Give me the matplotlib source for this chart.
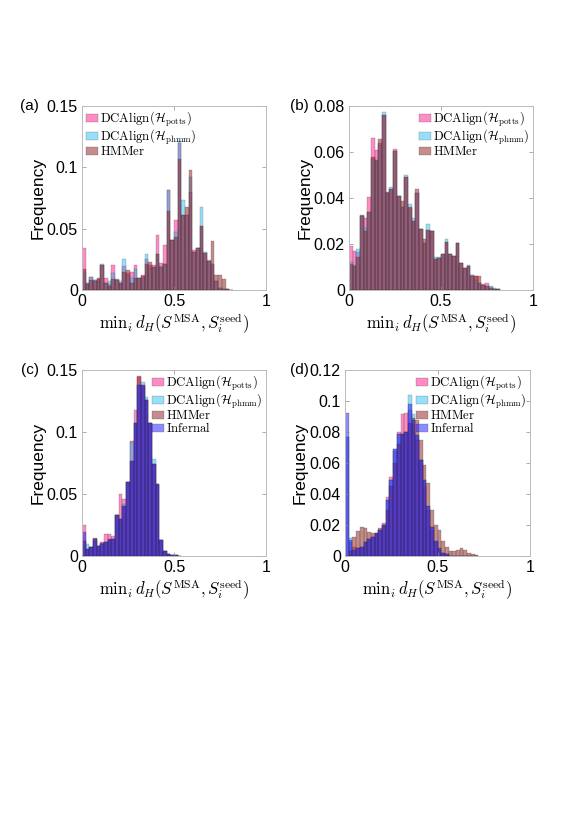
import numpy as np
import matplotlib
matplotlib.use("Agg")
import matplotlib.pyplot as plt

plt.rcParams['font.family'] = ['Liberation Sans', 'DejaVu Sans']
plt.rcParams['mathtext.fontset'] = 'cm'

bin_width = 0.02

# (a) bin heights, bins of width 0.02 starting at 0
a_potts = [0.034, 0.006, 0.011, 0.008, 0.009, 0.020, 0.010, 0.005, 0.020, 0.009,
           0.006, 0.0195, 0.014, 0.015, 0.020, 0.010, 0.012, 0.025, 0.020, 0.020,
           0.045, 0.022, 0.037, 0.0815, 0.041, 0.057, 0.120, 0.061, 0.061, 0.080,
           0.033, 0.034, 0.052, 0.030, 0.024, 0.021, 0.007, 0.002, 0.001, 0.0005, 0.0]
a_phmm = [0.015, 0.006, 0.011, 0.008, 0.007, 0.021, 0.006, 0.0075, 0.0135, 0.008,
          0.0075, 0.025, 0.012, 0.010, 0.017, 0.010, 0.010, 0.029, 0.018, 0.019,
          0.029, 0.0195, 0.021, 0.0815, 0.041, 0.047, 0.1215, 0.073, 0.061, 0.092,
          0.031, 0.034, 0.068, 0.031, 0.0245, 0.021, 0.007, 0.002, 0.001, 0.0005, 0.0]
a_hmmer = [0.017, 0.005, 0.008, 0.007, 0.0095, 0.020, 0.006, 0.003, 0.009, 0.0085,
           0.0055, 0.015, 0.016, 0.0055, 0.010, 0.010, 0.0115, 0.021, 0.0225, 0.019,
           0.029, 0.0185, 0.021, 0.064, 0.041, 0.0435, 0.107, 0.061, 0.068, 0.098,
           0.031, 0.034, 0.052, 0.030, 0.024, 0.040, 0.012, 0.012, 0.0087, 0.0005, 0.0003]

# (b)
b_potts = [0.019, 0.017, 0.0165, 0.032, 0.0315, 0.0405, 0.066, 0.061, 0.064, 0.076,
           0.042, 0.044, 0.0613, 0.041, 0.036, 0.049, 0.0355, 0.030, 0.042, 0.0265,
           0.0205, 0.026, 0.0257, 0.0133, 0.014, 0.0155, 0.021, 0.0155, 0.0148, 0.0203,
           0.0119, 0.0094, 0.0106, 0.0065, 0.006, 0.003, 0.0026, 0.0032, 0.0012, 0.0006, 0.0005]
b_phmm = [0.012, 0.011, 0.018, 0.032, 0.027, 0.034, 0.057, 0.056, 0.063, 0.0775,
          0.042, 0.0446, 0.0605, 0.041, 0.036, 0.0499, 0.0372, 0.0314, 0.042, 0.0265,
          0.0205, 0.0287, 0.0257, 0.0142, 0.0145, 0.0155, 0.022, 0.0158, 0.0148, 0.0203,
          0.0119, 0.0094, 0.011, 0.0065, 0.0045, 0.003, 0.0022, 0.0018, 0.0017, 0.001, 0.0005]
b_hmmer = [0.0115, 0.0105, 0.0145, 0.0325, 0.0255, 0.034, 0.058, 0.0565, 0.0655, 0.076,
           0.0428, 0.044, 0.0605, 0.041, 0.0387, 0.049, 0.036, 0.030, 0.0438, 0.0265,
           0.022, 0.026, 0.0257, 0.0133, 0.014, 0.0155, 0.021, 0.0155, 0.0148, 0.0205,
           0.0119, 0.0094, 0.0106, 0.006, 0.0062, 0.0061, 0.0022, 0.0018, 0.001, 0.0006, 0.0005]

# (c)
c_potts = [0.025, 0.006, 0.007, 0.014, 0.008, 0.011, 0.0175, 0.018, 0.016, 0.033,
           0.050, 0.046, 0.060, 0.093, 0.118, 0.144, 0.136, 0.126, 0.107, 0.074,
           0.057, 0.013, 0.004, 0.0013, 0.0008, 0.0005, 0.0003]
c_phmm = [0.012, 0.010, 0.007, 0.012, 0.008, 0.010, 0.011, 0.013, 0.014, 0.033,
          0.030, 0.042, 0.060, 0.092, 0.107, 0.138, 0.140, 0.1285, 0.107, 0.0785,
          0.058, 0.013, 0.004, 0.0013, 0.0008, 0.0005, 0.0003]
c_hmmer = [0.012, 0.006, 0.007, 0.0145, 0.008, 0.010, 0.011, 0.013, 0.014, 0.033,
           0.030, 0.040, 0.060, 0.077, 0.107, 0.145, 0.138, 0.1255, 0.107, 0.074,
           0.058, 0.013, 0.004, 0.0013, 0.0008, 0.0005, 0.0003]
c_infernal = [0.019, 0.006, 0.007, 0.014, 0.008, 0.0105, 0.0113, 0.0134, 0.014, 0.033,
              0.030, 0.040, 0.060, 0.077, 0.107, 0.138, 0.138, 0.1255, 0.107, 0.074,
              0.058, 0.013, 0.004, 0.0013, 0.0008, 0.0005, 0.0003]

# (d)
d_potts = [0.077, 0.009, 0.006, 0.005, 0.006, 0.009, 0.011, 0.012, 0.0146, 0.017,
           0.021, 0.038, 0.051, 0.068, 0.080, 0.0916, 0.092, 0.094, 0.085, 0.075,
           0.062, 0.045, 0.030, 0.017, 0.009, 0.004, 0.002, 0.001, 0.0, 0.0,
           0.0, 0.0, 0.0, 0.0, 0.0, 0.0]
d_phmm = [0.077, 0.0118, 0.004, 0.005, 0.006, 0.009, 0.011, 0.012, 0.0146, 0.017,
          0.020, 0.036, 0.049, 0.069, 0.079, 0.079, 0.080, 0.104, 0.0916, 0.078,
          0.062, 0.049, 0.032, 0.019, 0.010, 0.005, 0.002, 0.001, 0.0, 0.0,
          0.0, 0.0, 0.0, 0.0, 0.0, 0.0]
d_hmmer = [0.0, 0.003, 0.012, 0.016, 0.019, 0.018, 0.0157, 0.0146, 0.014, 0.018,
           0.020, 0.030, 0.045, 0.060, 0.072, 0.079, 0.080, 0.086, 0.089, 0.088,
           0.075, 0.059, 0.047, 0.030, 0.020, 0.017, 0.010, 0.006, 0.003, 0.003,
           0.004, 0.005, 0.004, 0.002, 0.001, 0.0005]
d_infernal = [0.0925, 0.0103, 0.004, 0.005, 0.006, 0.009, 0.011, 0.012, 0.0146, 0.017,
              0.020, 0.036, 0.049, 0.069, 0.079, 0.079, 0.080, 0.098, 0.088, 0.078,
              0.062, 0.049, 0.032, 0.019, 0.010, 0.005, 0.002, 0.001, 0.0, 0.0,
              0.0, 0.0, 0.0, 0.0, 0.0, 0.0]

lab_potts = r'$\mathrm{DCAlign}(\mathcal{H}_{\mathrm{potts}})$'
lab_phmm = r'$\mathrm{DCAlign}(\mathcal{H}_{\mathrm{phmm}})$'
lab_hmmer = r'$\mathrm{HMMer}$'
lab_infernal = r'$\mathrm{Infernal}$'
xlab = r'$\mathrm{min}_i\, d_H(S^{\mathrm{MSA}}, S_i^{\mathrm{seed}})$'

styles = {
    'potts': ('#ff1a8c', 0.5),
    'phmm': ('#1ab8f0', 0.45),
    'hmmer': ('#8c1a1a', 0.5),
    'infernal': ('#1a1aff', 0.5),
}

fig = plt.figure(figsize=(5.82, 8.23), dpi=100)
W, H = 582, 823


def make_ax(x0, y0, w, h):
    return fig.add_axes([x0 / W, 1 - (y0 + h) / H, w / W, h / H])


def panel(ax, series, ymax, yticks, yticklabels, legend_loc, tag, tag_xy):
    for vals, key, lab in series:
        vals = np.array(vals)
        left = np.arange(len(vals)) * bin_width
        col, al = styles[key]
        ax.bar(left, vals, width=bin_width, align='edge', color=col, alpha=al,
               edgecolor=(0.2, 0.2, 0.2, 0.35), linewidth=0.3, label=lab)
    ax.set_xlim(0, 1)
    ax.set_ylim(0, ymax)
    ax.set_xticks([0, 0.5, 1])
    ax.set_xticklabels(['0', '0.5', '1'])
    ax.set_yticks(yticks)
    ax.set_yticklabels(yticklabels)
    ax.tick_params(direction='in', length=3, width=0.5, color='#888888',
                   labelsize=11.5, top=True, right=True, pad=3)
    for s in ax.spines.values():
        s.set_color('#bbbbbb')
        s.set_linewidth(0.7)
    ax.set_ylabel('Frequency', fontsize=12.5)
    ax.yaxis.set_label_coords(-0.2, 0.5)
    ax.set_xlabel(xlab, fontsize=12, labelpad=2)
    ax.legend(loc=legend_loc, frameon=False, fontsize=9.2, handlelength=0.95,
              handleheight=0.6, handletextpad=0.15, labelspacing=-0.1,
              borderaxespad=0.1, borderpad=0.2)
    fig.text(tag_xy[0] / W, 1 - tag_xy[1] / H, tag, fontsize=11,
             ha='left', va='center')


ax_a = make_ax(82, 106, 184, 184)
panel(ax_a, [(a_potts, 'potts', lab_potts), (a_phmm, 'phmm', lab_phmm),
             (a_hmmer, 'hmmer', lab_hmmer)],
      0.15, [0, 0.05, 0.1, 0.15], ['0', '0.05', '0.1', '0.15'],
      'upper left', '(a)', (20, 106))

ax_b = make_ax(349, 106, 184, 184)
panel(ax_b, [(b_potts, 'potts', lab_potts), (b_phmm, 'phmm', lab_phmm),
             (b_hmmer, 'hmmer', lab_hmmer)],
      0.08, [0, 0.02, 0.04, 0.06, 0.08], ['0', '0.02', '0.04', '0.06', '0.08'],
      'upper right', '(b)', (290, 106))

ax_c = make_ax(82, 370, 184, 186)
panel(ax_c, [(c_potts, 'potts', lab_potts), (c_phmm, 'phmm', lab_phmm),
             (c_hmmer, 'hmmer', lab_hmmer), (c_infernal, 'infernal', lab_infernal)],
      0.15, [0, 0.05, 0.1, 0.15], ['0', '0.05', '0.1', '0.15'],
      'upper right', '(c)', (21, 370))

ax_d = make_ax(345, 370, 185, 186)
panel(ax_d, [(d_potts, 'potts', lab_potts), (d_phmm, 'phmm', lab_phmm),
             (d_hmmer, 'hmmer', lab_hmmer), (d_infernal, 'infernal', lab_infernal)],
      0.12, [0, 0.02, 0.04, 0.06, 0.08, 0.1, 0.12],
      ['0', '0.02', '0.04', '0.06', '0.08', '0.1', '0.12'],
      'upper right', '(d)', (290, 370))

fig.savefig('out.png', dpi=100)
